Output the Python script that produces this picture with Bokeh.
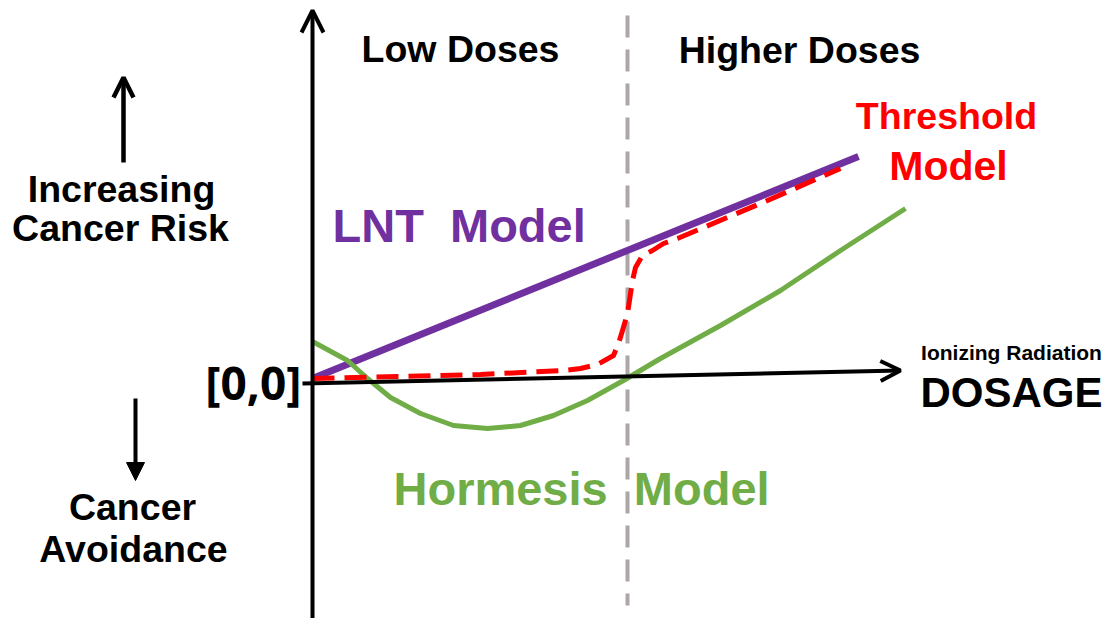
from bokeh.plotting import figure
from bokeh.models import Range1d, Arrow, OpenHead, NormalHead
from bokeh.core.properties import value
from bokeh.embed import file_html
from bokeh.resources import INLINE

# ---- data (dose, risk) in arbitrary units, origin at [0,0] ----
lnt_dose = [0.0, 54.6]
lnt_risk = [0.2, 22.4]

thr_dose = [0.0, 8.8, 16.8, 25.1, 26.8, 28.5, 30.1, 30.6, 31.0, 31.5, 31.7, 32.0, 32.3, 33.0,
            34.0, 35.1, 36.5, 44.8, 52.8]
thr_risk = [0.2, 0.4, 0.6, 1.0, 1.2, 1.6, 2.5, 3.7, 5.0, 6.7, 8.0, 10.0, 11.3, 12.5,
            13.0, 13.7, 14.2, 17.7, 21.2]

hor_dose = [0.0, 3.5, 5.5, 7.8, 10.8, 14.1, 17.5, 20.8, 24.1, 27.5, 31.1, 34.8, 40.8, 46.8, 52.8, 59.3]
hor_risk = [3.9, 2.0, 0.2, -1.7, -3.3, -4.5, -4.8, -4.5, -3.5, -2.0, 0.0, 2.2, 5.5, 9.0, 13.0, 17.2]

boundary_dose = 31.5
region_labels = ["Low Doses", "Higher Doses"]
model_labels = ["LNT\u00a0\u00a0Model", "Threshold", "Model", "Hormesis\u00a0\u00a0Model"]

FONT = value("Liberation Sans")

p = figure(width=1105, height=618, output_backend="svg", toolbar_location=None,
           x_range=Range1d(-31.2, 79.3), y_range=Range1d(-23.8, 38.0),
           min_border=0)
p.xaxis.visible = False
p.yaxis.visible = False
p.grid.visible = False
p.outline_line_color = None
p.background_fill_color = "white"
p.border_fill_color = "white"

# dashed boundary between low and higher doses
p.line([boundary_dose, boundary_dose], [36.5, -22.5], line_color="#aca6a6",
       line_width=4, line_dash="22 12")

# axes with arrows
p.add_layout(Arrow(x_start=-1.0, y_start=-0.3, x_end=58.8, y_end=1.0,
                   line_width=4, line_color="black",
                   end=OpenHead(size=20, line_width=4, line_color="black")))
p.add_layout(Arrow(x_start=0.0, y_start=-24.6, x_end=0.0, y_end=37.0,
                   line_width=4, line_color="black",
                   end=OpenHead(size=22, line_width=4, line_color="black")))

# models
p.line(lnt_dose, lnt_risk, line_color="#7030a0", line_width=7)
p.line(hor_dose, hor_risk, line_color="#70ad47", line_width=5, line_join="round")
p.line(thr_dose, thr_risk, line_color="#ff0000", line_width=5, line_dash="22 10",
       line_join="round")

# side arrows
p.add_layout(Arrow(x_start=-18.9, y_start=21.8, x_end=-18.9, y_end=30.3,
                   line_width=4.5, line_color="black",
                   end=OpenHead(size=20, line_width=4.5, line_color="black")))
p.add_layout(Arrow(x_start=-17.7, y_start=-1.8, x_end=-17.7, y_end=-10.0,
                   line_width=4, line_color="black",
                   end=NormalHead(size=18, line_color="black", fill_color="black")))

def txt(x, y, s, size, color="black", align="center", font=FONT):
    # y is the intended baseline; shift to compensate renderer baseline offset
    p.text(x=[x], y=[y + 0.036 * size], text=[s], text_font=font, text_font_style="bold",
           text_font_size=f"{size}px", text_color=color, text_align=align,
           text_baseline="alphabetic")

txt(14.8, 31.8, region_labels[0], 37.5)
txt(48.7, 31.7, region_labels[1], 37.5)
txt(63.4, 25.1, model_labels[1], 37.5, "#ff0000")
txt(63.6, 20.0, model_labels[2], 41, "#ff0000")
txt(2.0, 13.8, model_labels[0], 47, "#7030a0", "left")
txt(8.1, -12.5, model_labels[3], 47, "#70ad47", "left")
txt(-19.1, 17.8, "Increasing", 37.5)
txt(-19.2, 13.9, "Cancer Risk", 37.5)
txt(-18.0, -14.0, "Cancer", 37.5)
txt(-17.9, -18.2, "Avoidance", 37.5)
txt(-1.1, -1.8, "[0,0]", 46, "black", "right", value("Open Sans"))
txt(69.9, 2.0, "Ionizing Radiation", 21)
txt(69.9, -2.7, "DOSAGE", 42)

open("out.html", "w").write(file_html(p, INLINE))
